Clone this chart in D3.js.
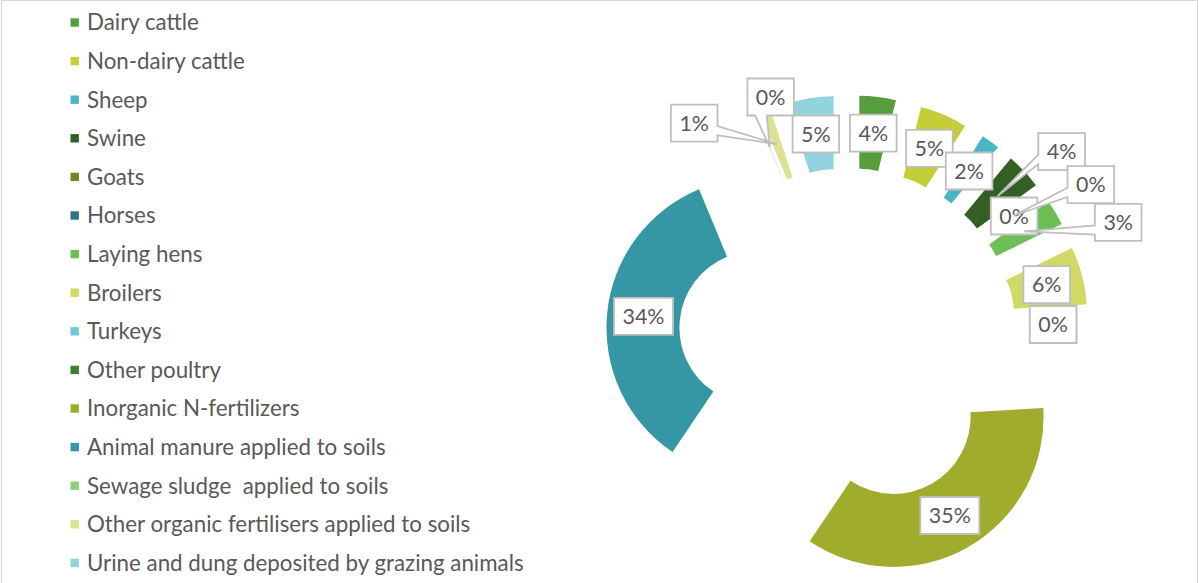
<!DOCTYPE html>
<html>
<head>
<meta charset="utf-8">
<script src="https://cdn.jsdelivr.net/npm/d3@7/dist/d3.min.js"></script>
<style>
  html, body { margin: 0; padding: 0; background: #ffffff; }
  svg { display: block; }
</style>
</head>
<body>
<svg id="chart" width="1199" height="583"></svg>
<script>
// ---------------- data ----------------
const categories = [
  "Dairy cattle",
  "Non-dairy cattle",
  "Sheep",
  "Swine",
  "Goats",
  "Horses",
  "Laying hens",
  "Broilers",
  "Turkeys",
  "Other poultry",
  "Inorganic N-fertilizers",
  "Animal manure applied to soils",
  "Sewage sludge  applied to soils",
  "Other organic fertilisers applied to soils",
  "Urine and dung deposited by grazing animals"
];
// share of emissions, percent
const values = [3.93, 5.1, 2.0, 3.9, 0.03, 0.04, 2.8, 6.2, 0.02, 0.03, 35.4, 34.3, 0.05, 1.2, 5.0];
const colors = [
  "#559e3b", "#c4cf38", "#4ab6c5", "#335f25", "#7b8320",
  "#2b7580", "#6dbf55", "#d1d965", "#73c7d6", "#417e2f",
  "#9fac2c", "#3597a3", "#8ed07c", "#dbe290", "#92d3de"
];
// labels that were dragged away from the slice (offset of box centre from slice anchor)
const draggedLabels = {
  "Swine": [64, -44.5],
  "Goats": [77, -31],
  "Laying hens": [94, -9],
  "Sewage sludge  applied to soils": [1, -50],
  "Other organic fertilisers applied to soils": [-83, -21]
};

// ---------------- layout ----------------
const W = 1199, H = 583;
const cx = 848, cy = 337;
const outerR = 150, innerR = 77, explode = 92;
const FONT = "Lato, 'Open Sans', 'Liberation Sans', sans-serif";
const TEXT = "#595959";

const svg = d3.select("#chart");

// measure helper for font fitting
function measure(str, size) {
  const t = svg.append("text").attr("font-family", FONT).attr("font-size", size)
    .style("white-space", "pre").text(str);
  const w = t.node().getComputedTextLength();
  t.remove();
  return w;
}
const legendSize = 100 * 437 / measure(categories[14], 100);
const labelSize = Math.min(legendSize, 100 * 42 / measure("35%", 100));

// chart area border
svg.append("rect")
  .attr("x", 1.5).attr("y", 0.5).attr("width", 1196).attr("height", 600)
  .attr("fill", "#ffffff").attr("stroke", "#d9d9d9").attr("stroke-width", 1);

// ---------------- doughnut ----------------
const data = categories.map((c, i) => ({ name: c, value: values[i], color: colors[i] }));
const total = d3.sum(values);
const pie = d3.pie().sort(null).value(d => d.value).startAngle(0).endAngle(2 * Math.PI);
const arcs = pie(data);
const arc = d3.arc().innerRadius(innerR).outerRadius(outerR);

function offsetOf(d) {
  const mid = (d.startAngle + d.endAngle) / 2;
  return [explode * Math.sin(mid), -explode * Math.cos(mid)];
}

const gPie = svg.append("g").attr("transform", `translate(${cx},${cy})`);
gPie.selectAll("path.slice")
  .data(arcs.filter(d => d.endAngle - d.startAngle > 0.003))
  .join("path")
  .attr("class", "slice")
  .attr("d", arc)
  .attr("fill", d => d.data.color)
  .attr("transform", d => { const o = offsetOf(d); return `translate(${o[0]},${o[1]})`; });

// ---------------- data labels (callouts) ----------------
const fmt = d3.format(".0%");
const labelData = arcs.map(d => {
  const o = offsetOf(d);
  const c = arc.centroid(d);
  const anchor = [cx + o[0] + c[0], cy + o[1] + c[1]];
  const shift = draggedLabels[d.data.name] || [0, 0];
  const text = fmt(d.data.value / total);
  const tw = measure(text, labelSize);
  const w = tw + 17, h = 37;
  const bx = anchor[0] + shift[0], by = anchor[1] + shift[1];
  return { text, anchor, dragged: !!draggedLabels[d.data.name], bx, by, w, h };
});

function calloutPath(L) {
  const x0 = L.bx - L.w / 2, y0 = L.by - L.h / 2, w = L.w, h = L.h;
  const x1 = x0 + w, y1 = y0 + h;
  const [tx, ty] = L.anchor;
  const inside = tx >= x0 && tx <= x1 && ty >= y0 && ty <= y1;
  const p = [];
  if (inside) {
    p.push([x0, y0], [x1, y0], [x1, y1], [x0, y1]);
  } else {
    const dxn = (tx - L.bx) / w, dyn = (ty - L.by) / h;
    const horiz = Math.abs(dxn) > Math.abs(dyn);
    const fx = dxn < 0 ? [2 / 12, 5 / 12] : [7 / 12, 10 / 12];
    const fy = dyn < 0 ? [2 / 12, 5 / 12] : [7 / 12, 10 / 12];
    p.push([x0, y0]);
    if (!horiz && dyn < 0) p.push([x0 + w * fx[0], y0], [tx, ty], [x0 + w * fx[1], y0]);
    p.push([x1, y0]);
    if (horiz && dxn > 0) p.push([x1, y0 + h * fy[0]], [tx, ty], [x1, y0 + h * fy[1]]);
    p.push([x1, y1]);
    if (!horiz && dyn > 0) p.push([x0 + w * fx[1], y1], [tx, ty], [x0 + w * fx[0], y1]);
    p.push([x0, y1]);
    if (horiz && dxn < 0) p.push([x0, y0 + h * fy[1]], [tx, ty], [x0, y0 + h * fy[0]]);
  }
  return "M" + p.map(q => q[0].toFixed(1) + "," + q[1].toFixed(1)).join("L") + "Z";
}

const ordered = labelData.filter(l => !l.dragged).concat(labelData.filter(l => l.dragged));
const gLab = svg.append("g");
const lab = gLab.selectAll("g.lab").data(ordered).join("g").attr("class", "lab");
lab.append("path")
  .attr("d", calloutPath)
  .attr("fill", "#ffffff")
  .attr("stroke", "#bfbfbf")
  .attr("stroke-width", 1.8)
  .attr("stroke-linejoin", "miter");
lab.append("text")
  .attr("x", d => d.bx)
  .attr("y", d => d.by + labelSize * 0.36)
  .attr("text-anchor", "middle")
  .attr("font-family", FONT)
  .attr("font-size", labelSize)
  .attr("fill", TEXT)
  .text(d => d.text);

// ---------------- legend ----------------
const legendY = d3.scaleLinear().domain([0, categories.length - 1]).range([22.5, 562.9]);
const gLeg = svg.append("g");
const item = gLeg.selectAll("g.item").data(data).join("g").attr("class", "item");
item.append("rect")
  .attr("x", 70.5).attr("y", (d, i) => legendY(i) - 4.2)
  .attr("width", 8.4).attr("height", 8.4)
  .attr("fill", d => d.color);
item.append("text")
  .attr("x", 87)
  .attr("y", (d, i) => legendY(i) + legendSize * 0.35)
  .attr("font-family", FONT)
  .attr("font-size", legendSize)
  .attr("fill", TEXT)
  .style("white-space", "pre")
  .text(d => d.name);
</script>
</body>
</html>
